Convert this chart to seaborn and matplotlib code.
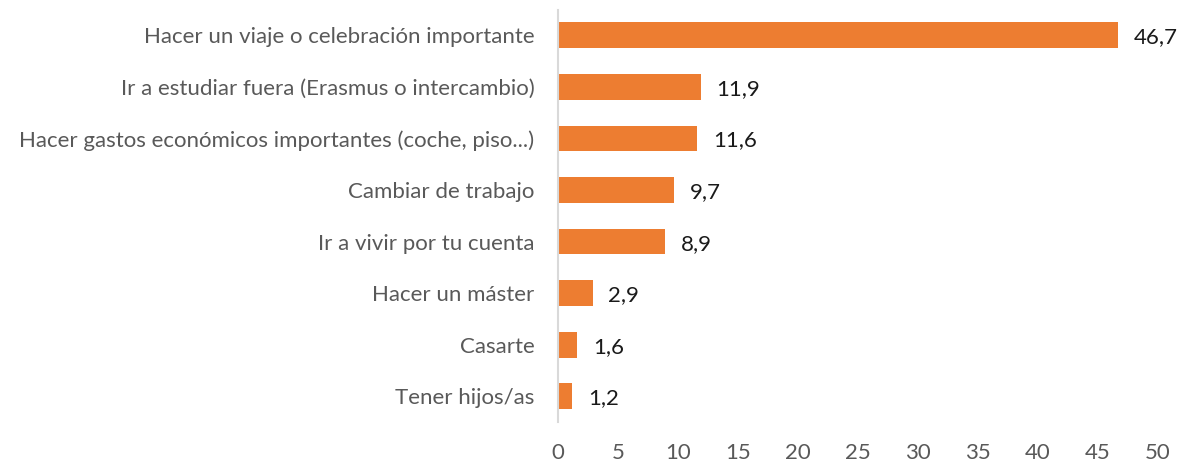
import matplotlib
matplotlib.use("Agg")
import matplotlib.pyplot as plt
import seaborn as sns
import pandas as pd

categories = [
    "Hacer un viaje o celebración importante",
    "Ir a estudiar fuera (Erasmus o intercambio)",
    "Hacer gastos económicos importantes (coche, piso...)",
    "Cambiar de trabajo",
    "Ir a vivir por tu cuenta",
    "Hacer un máster",
    "Casarte",
    "Tener hijos/as",
]
values = [46.7, 11.9, 11.6, 9.7, 8.9, 2.9, 1.6, 1.2]
xticks = [0, 5, 10, 15, 20, 25, 30, 35, 40, 45, 50]

df = pd.DataFrame({"cat": categories, "val": values})

sns.set_theme(style="white")
plt.rcParams["font.family"] = ["Lato", "DejaVu Sans"]

fig = plt.figure(figsize=(11.85, 4.62), dpi=100)
ax = fig.add_axes([0.4709, 0.0866, 0.5063, 0.8927])

sns.barplot(data=df, x="val", y="cat", color="#ED7D31", saturation=1,
            width=0.5, ax=ax, edgecolor="none")

for i, v in enumerate(values):
    ax.text(v + 1.3, i + 0.04, f"{v:.1f}".replace(".", ","), va="center", ha="left",
            fontsize=16, color="#1a1a1a")

ax.set_xlim(0, 50)
ax.set_xticks(xticks)
ax.set_xticklabels([str(t) for t in xticks])
ax.set_xlabel("")
ax.set_ylabel("")
ax.tick_params(axis="both", length=0, labelsize=16, colors="#595959")
ax.tick_params(axis="y", pad=17)
ax.tick_params(axis="x", pad=15)
for s in ["top", "right", "bottom"]:
    ax.spines[s].set_visible(False)
ax.spines["left"].set_color("#D9D9D9")
ax.spines["left"].set_linewidth(1.5)

fig.savefig("out.png", dpi=100)
